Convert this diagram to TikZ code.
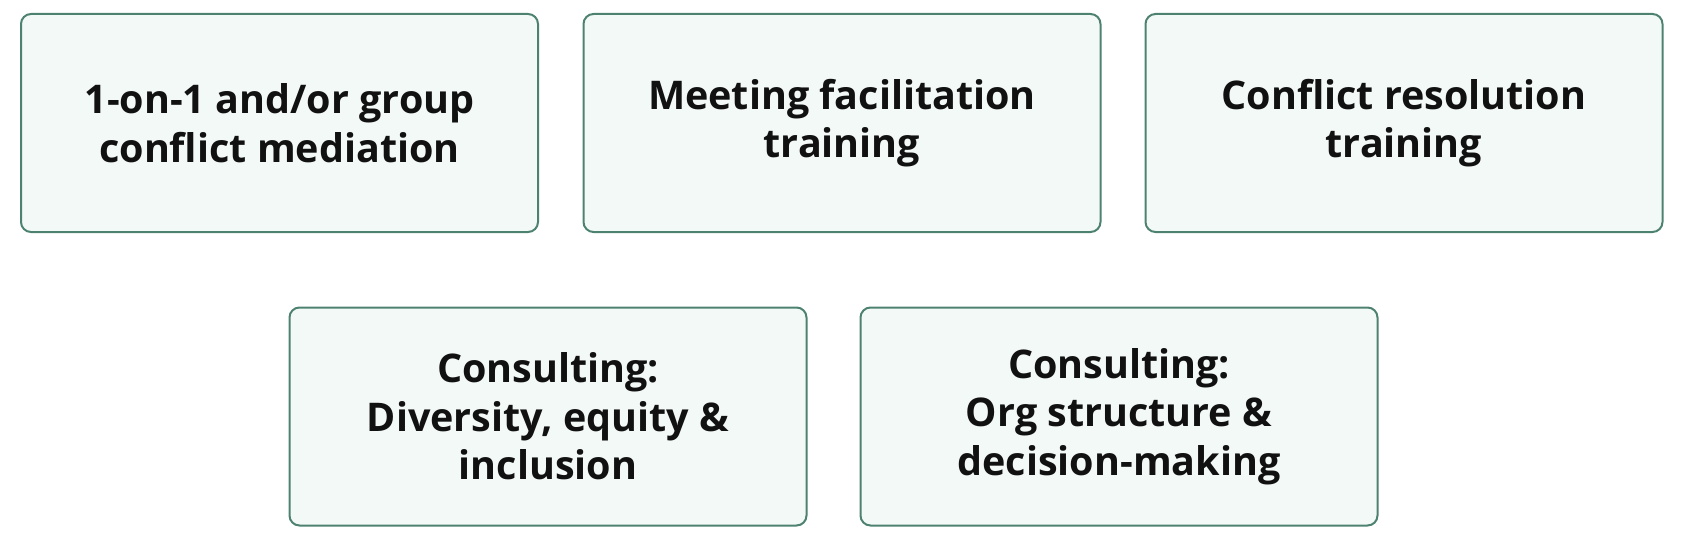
\documentclass[tikz,border=0pt]{standalone}
\usepackage{fontspec}
\setmainfont{Open Sans}
\definecolor{boxline}{HTML}{4E8270}
\definecolor{boxfill}{HTML}{F3F9F7}
\definecolor{txt}{HTML}{111111}
\begin{document}
\begin{tikzpicture}[x=1pt,y=-1pt,
  svc/.style={draw=boxline, fill=boxfill, line width=2pt, rounded corners=10pt,
    minimum width=517pt, minimum height=218pt, align=center, inner sep=0pt,
    text=txt, font=\bfseries\fontsize{39.5}{48.5}\selectfont}]
\useasboundingbox (0,0) rectangle (1686,548);
\node[svc] (a) at (279.5,123) {1-on-1 and/or group\\conflict mediation};
\node[svc] (b) at (842,123) {Meeting facilitation\\training};
\node[svc] (c) at (1404,123) {Conflict resolution\\training};
\node[svc] (d) at (548,416.5) {Consulting:\\Diversity, equity \&\\inclusion};
\node[svc] (e) at (1119,416.5) {Consulting:\\Org structure \&\\decision-making};
\end{tikzpicture}
\end{document}
